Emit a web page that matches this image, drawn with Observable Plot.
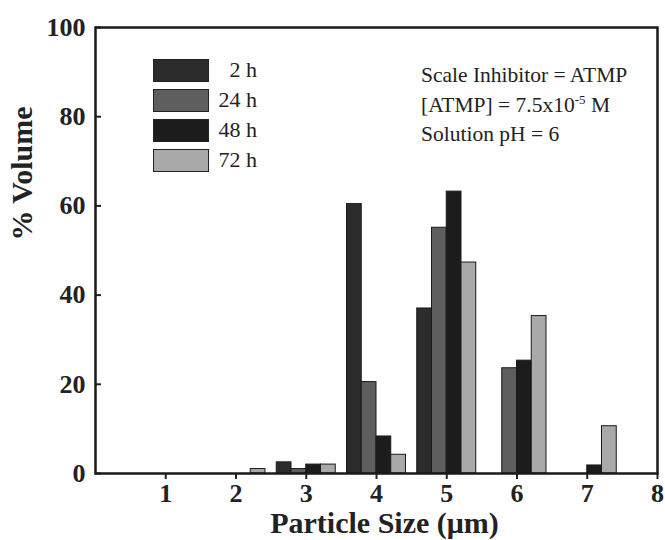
<!DOCTYPE html>
<html><head><meta charset="utf-8">
<script src="https://cdn.jsdelivr.net/npm/d3@7"></script>
<script src="https://cdn.jsdelivr.net/npm/@observablehq/plot@0.6"></script>
<style>
body{margin:0;background:#fff;}
#wrap{position:relative;width:665px;height:540px;font-family:"Liberation Serif","Times New Roman",serif;color:#222;}
#wrap g[aria-label="x-axis tick label"], #wrap g[aria-label="y-axis tick label"]{font-size:26px;font-weight:bold;}
.legend{position:absolute;left:153px;top:59px;width:110px;}
.row{position:relative;height:30px;}
.sw{position:absolute;left:0;top:0;width:54px;height:21px;border:1.5px solid #222;}
.lab{position:absolute;right:6px;top:-2px;font-size:22px;line-height:26px;}
.note{position:absolute;left:421px;top:61px;font-size:21.5px;line-height:29.5px;white-space:nowrap;}
.note sup{font-size:13px;vertical-align:8px;line-height:0;}
</style></head><body><div id="wrap"></div>
<script>
// Data
const sizes = [1, 2, 3, 4, 5, 6, 7];            // particle size, µm
const series = ["2 h", "24 h", "48 h", "72 h"];
const vol2h  = [0, 0, 2.5, 60.4, 37.0, 0,    0];
const vol24h = [0, 0, 1.0, 20.5, 55.1, 23.6, 0];
const vol48h = [0, 0, 2.0, 8.3,  63.2, 25.3, 1.8];
const vol72h = [0, 1.0, 2.0, 4.2, 47.3, 35.3, 10.6];
const xTicks = [1, 2, 3, 4, 5, 6, 7, 8];
const yTicks = [0, 20, 40, 60, 80, 100];
const notes = ["Scale Inhibitor = ATMP", "[ATMP] = 7.5x10<sup>-5</sup> M", "Solution pH = 6"];

const colors = ["#2c2c2c", "#5e5e5e", "#1c1c1c", "#a9a9a9"];
const barW = 0.21;

const all = [vol2h, vol24h, vol48h, vol72h];
const rows = [];
series.forEach((s, i) => {
  all[i].forEach((v, j) => {
    if (v > 0) rows.push({series: s, i, size: sizes[j], value: v,
      x1: sizes[j] + (i - 2) * barW, x2: sizes[j] + (i - 1) * barW});
  });
});

const font = "'Liberation Serif','Times New Roman',serif";
const chart = Plot.plot({
  width: 665, height: 540,
  marginLeft: 95, marginRight: 8, marginTop: 27, marginBottom: 67,
  style: {fontFamily: font, background: "#fff", color: "#222"},
  x: {domain: [0, 8]},
  y: {domain: [0, 100]},
  color: {domain: series, range: colors},
  marks: [
    Plot.rectY(rows, {x1: "x1", x2: "x2", y1: 0, y2: "value", fill: "series", stroke: "#1a1a1a", strokeWidth: 1}),
    Plot.axisX(xTicks, {tickSize: 6, tickPadding: 4, fontSize: 26, fontWeight: "bold", strokeWidth: 2, label: null}),
    Plot.axisY(yTicks, {tickSize: -6, tickPadding: 16, fontSize: 26, fontWeight: "bold", strokeWidth: 2, label: null}),
    Plot.frame({stroke: "#1a1a1a", strokeWidth: 2.5}),
    Plot.text(["Particle Size (μm)"], {frameAnchor: "bottom", lineAnchor: "middle", textAnchor: "middle", dy: 50, dx: 8, fontSize: 30, fontWeight: "bold", fill: "#222"}),
    Plot.text(["% Volume"], {frameAnchor: "left", textAnchor: "middle", lineAnchor: "middle", dx: -73, dy: -77, rotate: -90, fontSize: 30, fontWeight: "bold", fill: "#222"})
  ]
});

const wrap = document.getElementById("wrap");
wrap.appendChild(chart);

const leg = document.createElement("div");
leg.className = "legend";
series.forEach((s, i) => {
  const r = document.createElement("div"); r.className = "row";
  const sw = document.createElement("div"); sw.className = "sw"; sw.style.background = colors[i];
  const lb = document.createElement("div"); lb.className = "lab"; lb.textContent = s;
  r.appendChild(sw); r.appendChild(lb); leg.appendChild(r);
});
wrap.appendChild(leg);

const note = document.createElement("div");
note.className = "note";
note.innerHTML = notes.join("<br>");
wrap.appendChild(note);
</script></body></html>
